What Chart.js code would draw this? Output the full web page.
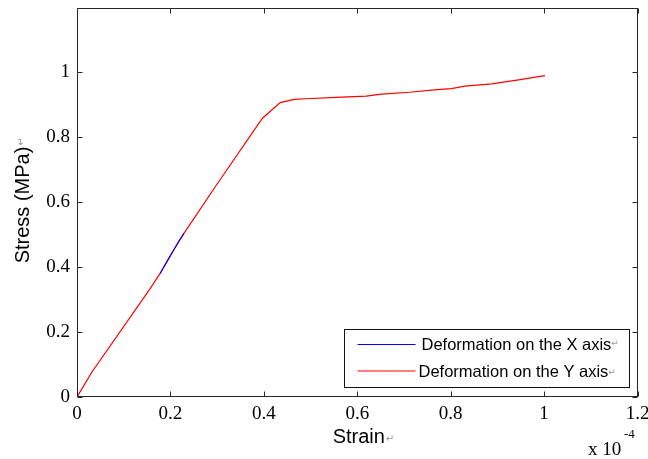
<!DOCTYPE html>
<html>
<head>
<meta charset="utf-8">
<script src="https://cdn.jsdelivr.net/npm/chart.js@4"></script>
<style>
  html, body { margin: 0; padding: 0; background: #fff; }
  #wrap { width: 648px; height: 459px; }
</style>
</head>
<body>
<div id="wrap"><canvas id="c" width="648" height="459"></canvas></div>
<script>
// Stress-strain curves (strain in units of 1e-4, stress in MPa)
const strainY = [0, 0.032, 0.157, 0.178, 0.207, 0.229, 0.3, 0.397, 0.435, 0.465, 0.49, 0.555, 0.619, 0.652, 0.712, 0.77, 0.802, 0.83, 0.888, 0.942, 1.002];
const stressY = [0, 0.077, 0.334, 0.38, 0.452, 0.503, 0.655, 0.857, 0.905, 0.915, 0.917, 0.921, 0.925, 0.931, 0.937, 0.945, 0.948, 0.956, 0.963, 0.974, 0.988];
const strainX = [0.178, 0.19, 0.207, 0.218, 0.229];
const stressX = [0.38, 0.41, 0.452, 0.479, 0.503];
const xTicks = [0, 0.2, 0.4, 0.6, 0.8, 1, 1.2];
const yTicks = [0, 0.2, 0.4, 0.6, 0.8, 1];
const seriesNames = ['Deformation on the X axis', 'Deformation on the Y axis'];
const seriesColors = ['#0000ff', '#ff0000'];

const toPoints = (xs, ys) => xs.map((v, i) => ({ x: v, y: ys[i] }));
const fmt = v => String(Math.round(v * 10) / 10);
const SERIF = '"Liberation Serif", "Times New Roman", serif';
const SANS = '"Liberation Sans", Arial, sans-serif';
const MARK = '"DejaVu Sans", sans-serif';

// Boxed axes with inward ticks, in-plot legend, axis titles and exponent label
const frame = {
  id: 'frame',
  afterDraw(chart) {
    const { ctx, chartArea: a, scales: { x, y } } = chart;
    const L = Math.round(a.left) + 0.5, R = Math.round(a.right) - 0.5;
    const T = Math.round(a.top) + 0.5, B = Math.round(a.bottom) - 0.5;
    ctx.save();
    ctx.strokeStyle = '#262626';
    ctx.lineWidth = 1;
    ctx.strokeRect(L, T, R - L, B - T);
    ctx.beginPath();
    xTicks.forEach(v => {
      const px = Math.round(x.getPixelForValue(v)) + 0.5;
      ctx.moveTo(px, B); ctx.lineTo(px, B - 5);
      ctx.moveTo(px, T); ctx.lineTo(px, T + 5);
    });
    yTicks.forEach(v => {
      const py = Math.round(y.getPixelForValue(v)) + 0.5;
      ctx.moveTo(L, py); ctx.lineTo(L + 5, py);
      ctx.moveTo(R, py); ctx.lineTo(R - 5, py);
    });
    ctx.stroke();

    // legend box, lower right inside the axes
    const bx = R - 293, by = B - 67, bw = 285, bh = 58;
    ctx.fillStyle = '#fff';
    ctx.fillRect(bx, by, bw, bh);
    ctx.strokeStyle = '#111';
    ctx.strokeRect(bx, by, bw, bh);
    const rows = [{ ly: by + 15, ty: by + 20.5, tx: bx + 77 }, { ly: by + 41.5, ty: by + 47, tx: bx + 74 }];
    chart.data.datasets.forEach((ds, i) => {
      const r = rows[i];
      ctx.strokeStyle = ds.borderColor;
      ctx.lineWidth = 1.2;
      ctx.beginPath();
      ctx.moveTo(bx + 13, r.ly); ctx.lineTo(bx + 71, r.ly);
      ctx.stroke();
      ctx.fillStyle = '#000';
      ctx.font = '16.5px ' + SANS;
      ctx.textAlign = 'left';
      ctx.textBaseline = 'alphabetic';
      ctx.fillText(ds.label, r.tx, r.ty);
      const w = ctx.measureText(ds.label).width;
      ctx.fillStyle = '#9a9a9a';
      ctx.font = '9px ' + MARK;
      ctx.fillText('\u21B5', r.tx + w, r.ty - (i === 0 ? 4 : 2));
    });

    // x axis title
    ctx.fillStyle = '#000';
    ctx.font = '20px ' + SANS;
    ctx.textAlign = 'center';
    const cx = (a.left + a.right) / 2 + 1.5;
    ctx.fillText('Strain', cx, 442.7);
    const sw = ctx.measureText('Strain').width;
    ctx.fillStyle = '#9a9a9a';
    ctx.font = '10px ' + MARK;
    ctx.textAlign = 'left';
    ctx.fillText('\u21B5', cx + sw / 2 + 1, 442);

    // y axis title
    ctx.save();
    ctx.translate(29, (a.top + a.bottom) / 2 + 2.5);
    ctx.rotate(-Math.PI / 2);
    ctx.fillStyle = '#000';
    ctx.font = '20px ' + SANS;
    ctx.textAlign = 'center';
    ctx.fillText('Stress (MPa)', 0, 0);
    const yw = ctx.measureText('Stress (MPa)').width;
    ctx.fillStyle = '#9a9a9a';
    ctx.font = '10px ' + MARK;
    ctx.textAlign = 'left';
    ctx.fillText('\u21B5', yw / 2 + 1, -5);
    ctx.restore();

    // axis multiplier
    ctx.fillStyle = '#000';
    ctx.textAlign = 'left';
    ctx.font = '19px ' + SERIF;
    ctx.fillText('x 10', 588, 455);
    ctx.font = '13px ' + SERIF;
    ctx.fillText('-4', 624, 438);
    ctx.restore();
  }
};

new Chart(document.getElementById('c'), {
  type: 'scatter',
  data: {
    datasets: [
      {
        label: seriesNames[0],
        data: toPoints(strainX, stressX),
        borderColor: seriesColors[0],
        backgroundColor: seriesColors[0],
        showLine: true, pointRadius: 0, borderWidth: 1.1, tension: 0, order: 0
      },
      {
        label: seriesNames[1],
        data: toPoints(strainY, stressY),
        borderColor: seriesColors[1],
        backgroundColor: seriesColors[1],
        showLine: true, pointRadius: 0, borderWidth: 1.2, tension: 0, order: 1
      }
    ]
  },
  options: {
    responsive: false,
    devicePixelRatio: 1,
    animation: false,
    layout: { padding: { top: 8, right: 10.5, left: 0, bottom: 0 } },
    plugins: { legend: { display: false }, tooltip: { enabled: false } },
    scales: {
      x: {
        type: 'linear', min: 0, max: 1.2,
        afterBuildTicks: s => { s.ticks = xTicks.map(v => ({ value: v })); },
        afterFit: s => { s.height = 62; s.paddingLeft = 0; s.paddingRight = 0; },
        grid: { display: false, drawTicks: false },
        border: { display: false },
        ticks: { color: '#000', padding: 6, maxRotation: 0, font: { family: SERIF, size: 19 }, callback: fmt }
      },
      y: {
        type: 'linear', min: 0, max: 1.196,
        afterBuildTicks: s => { s.ticks = yTicks.map(v => ({ value: v })); },
        afterFit: s => { s.width = 77; s.paddingTop = 0; s.paddingBottom = 0; },
        grid: { display: false, drawTicks: false },
        border: { display: false },
        ticks: { color: '#000', padding: 7, font: { family: SERIF, size: 19 }, callback: fmt }
      }
    }
  },
  plugins: [frame]
});
</script>
</body>
</html>
